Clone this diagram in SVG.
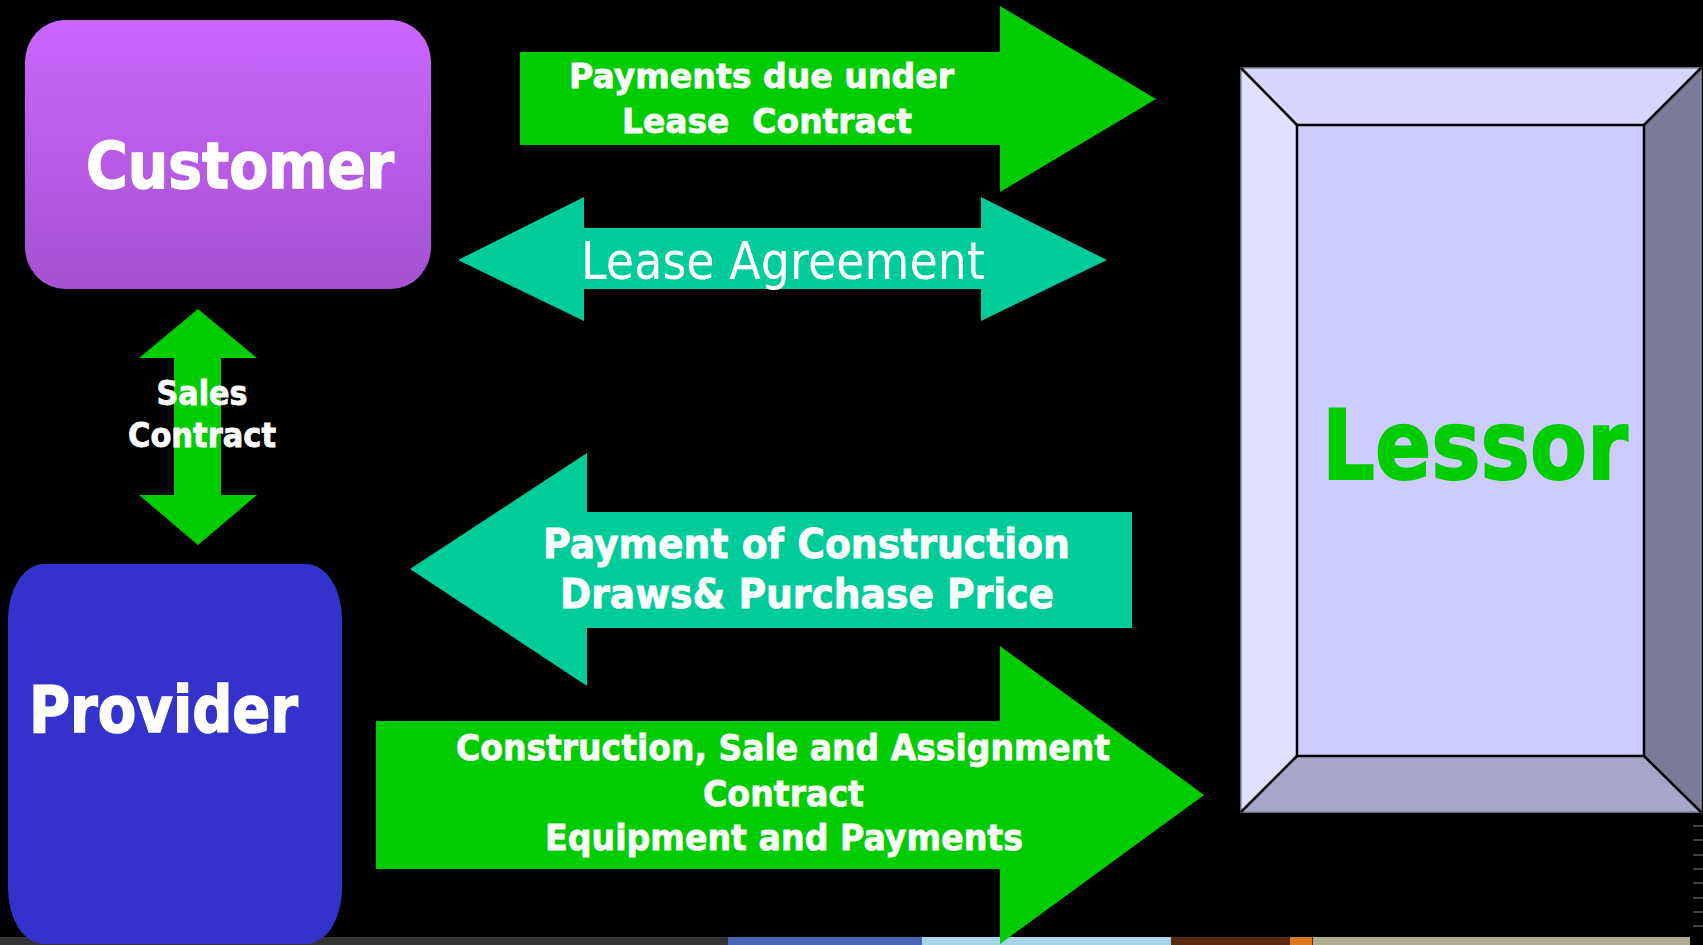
<svg xmlns="http://www.w3.org/2000/svg" width="1703" height="945" viewBox="0 0 1703 945">
<defs>
<linearGradient id="custGrad" x1="0" y1="0" x2="0" y2="1">
<stop offset="0" stop-color="#CC66FF"/>
<stop offset="1" stop-color="#A452D0"/>
</linearGradient>
<style>
.lbl{font-family:"DejaVu Sans","Verdana",sans-serif;font-weight:bold;fill:#FFFFFF;stroke:#FFFFFF;stroke-width:0.8}
.reg{font-family:"DejaVu Sans","Verdana",sans-serif;font-weight:normal;fill:#FFFFFF}
.green{fill:#00CC00}
.teal{fill:#00CC99}
.edge{stroke:#000000;stroke-width:2.5;fill:none}
</style>
</defs>
<rect x="0" y="0" width="1703" height="945" fill="#000000"/>
<g id="screen-strip">
<rect x="0" y="937" width="728" height="8" fill="#333333"/>
<rect x="728" y="937" width="194" height="8" fill="#4A66B4"/>
<rect x="922" y="937" width="249" height="8" fill="#A8D4E8"/>
<rect x="1171" y="937" width="142" height="8" fill="#5A2A10"/>
<rect x="1290" y="937" width="22" height="8" fill="#E07A20"/>
<rect x="1313" y="937" width="377" height="8" fill="#B0AD90"/>
<g stroke="#555555" stroke-width="1.5">
<line x1="1693" y1="826" x2="1703" y2="826"/><line x1="1693" y1="840" x2="1703" y2="840"/>
<line x1="1693" y1="855" x2="1703" y2="855"/><line x1="1693" y1="869" x2="1703" y2="869"/>
<line x1="1693" y1="883" x2="1703" y2="883"/><line x1="1693" y1="898" x2="1703" y2="898"/>
<line x1="1693" y1="912" x2="1703" y2="912"/><line x1="1693" y1="926" x2="1703" y2="926"/>
</g>
</g>
<g id="customer">
<rect x="25" y="20" width="406" height="269" rx="40" ry="42" fill="url(#custGrad)"/>
<text class="lbl" x="86" y="188" font-size="64" textLength="308" lengthAdjust="spacingAndGlyphs" style="stroke-width:1.5">Customer</text>
</g>
<g id="provider">
<rect x="8" y="564" width="334" height="380" rx="36" ry="55" fill="#3333CC"/>
<text class="lbl" x="29" y="732" font-size="64" textLength="269" lengthAdjust="spacingAndGlyphs" style="stroke-width:1.5">Provider</text>
</g>
<g id="lessor">
<polygon points="1241,68 1701,68 1644,125 1297,125" fill="#D6D6FE"/>
<polygon points="1241,68 1297,125 1297,756 1241,812" fill="#E0E0FF"/>
<polygon points="1701,68 1701,812 1644,756 1644,125" fill="#7A7A99"/>
<polygon points="1241,812 1297,756 1644,756 1701,812" fill="#A6A6CC"/>
<rect x="1297" y="125" width="347" height="631" fill="#CCCCFF"/>
<rect x="1241" y="68" width="460" height="744" fill="none" stroke="#8A8AAA" stroke-width="1.5"/>
<rect x="1297" y="125" width="347" height="631" class="edge"/>
<line x1="1241" y1="68" x2="1297" y2="125" class="edge"/>
<line x1="1701" y1="68" x2="1644" y2="125" class="edge"/>
<line x1="1241" y1="812" x2="1297" y2="756" class="edge"/>
<line x1="1701" y1="812" x2="1644" y2="756" class="edge"/>
<text class="lbl" x="1322" y="479" font-size="97" textLength="306" lengthAdjust="spacingAndGlyphs" style="fill:#00CC00;stroke:#00CC00;stroke-width:2">Lessor</text>
</g>
<g id="connectors">
<g id="payments-due">
<polygon class="green" points="520,52 1000,52 1000,6 1156,99 1000,192 1000,145 520,145"/>
<text class="lbl" x="569" y="88" font-size="34" textLength="385" lengthAdjust="spacingAndGlyphs">Payments due under</text>
<text class="lbl" x="622" y="133" font-size="34" textLength="290" lengthAdjust="spacingAndGlyphs" style="white-space:pre">Lease  Contract</text>
</g>
<g id="lease-agreement">
<polygon class="teal" points="458,260 584,197 584,228 981,228 981,197 1107,260 981,321 981,289 584,289 584,321"/>
<text class="reg" x="581" y="279" font-size="51" textLength="404" lengthAdjust="spacingAndGlyphs">Lease Agreement</text>
</g>
<g id="sales-contract">
<polygon class="green" points="198,309 257,358 221,358 221,495 257,495 198,545 139,495 174,495 174,358 139,358"/>
<text class="lbl" x="202" y="405" font-size="33" text-anchor="middle" textLength="91" lengthAdjust="spacingAndGlyphs">Sales</text>
<text class="lbl" x="202" y="447" font-size="33" text-anchor="middle" textLength="148" lengthAdjust="spacingAndGlyphs">Contract</text>
</g>
<g id="construction-draws">
<polygon class="teal" points="410,569 587,453 587,512 1132,512 1132,628 587,628 587,686"/>
<text class="lbl" x="543" y="558" font-size="41" textLength="527" lengthAdjust="spacingAndGlyphs">Payment of Construction</text>
<text class="lbl" x="560" y="608" font-size="41" textLength="494" lengthAdjust="spacingAndGlyphs">Draws&amp; Purchase Price</text>
</g>
<g id="construction-sale">
<polygon class="green" points="376,721 1000,721 1000,646 1204,795 1000,944 1000,869 376,869"/>
<text class="lbl" x="456" y="760" font-size="36" textLength="654" lengthAdjust="spacingAndGlyphs">Construction, Sale and Assignment</text>
<text class="lbl" x="703" y="806" font-size="36" textLength="161" lengthAdjust="spacingAndGlyphs">Contract</text>
<text class="lbl" x="545" y="850" font-size="36" textLength="478" lengthAdjust="spacingAndGlyphs">Equipment and Payments</text>
</g>
</g>
</svg>
